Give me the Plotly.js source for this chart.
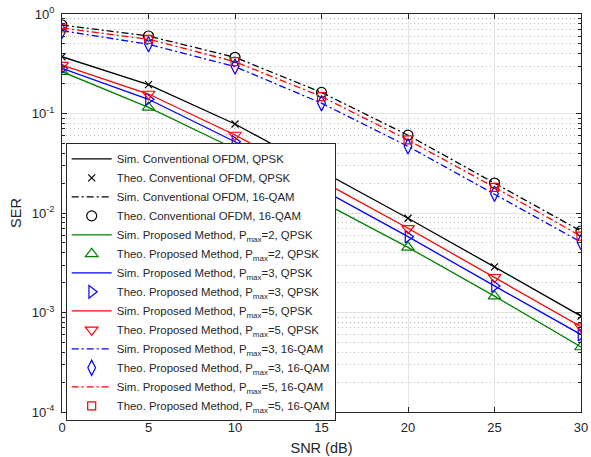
<!DOCTYPE html>
<html>
<head>
<meta charset="utf-8">
<script src="https://cdn.plot.ly/plotly-3.0.1.min.js"></script>
<style>html,body{margin:0;padding:0;background:#fff;}#chart{width:591px;height:457px;}</style>
</head>
<body>
<div id="chart"></div>
<script>
// ---- data ----
var snr = [0, 5, 10, 15, 20, 25, 30];

var convQPSK      = [0.372, 0.195, 0.0785, 0.0265, 0.00885, 0.00287, 0.00092];
var convQAM16     = [0.775, 0.601, 0.367, 0.163, 0.0605, 0.0200, 0.00659];
var propQPSK_P2   = [0.263, 0.115, 0.0440, 0.0130, 0.00452, 0.00146, 0.00045];
var propQPSK_P3   = [0.284, 0.139, 0.0520, 0.0175, 0.00578, 0.00185, 0.00060];
var propQPSK_P5   = [0.307, 0.157, 0.0608, 0.0210, 0.00702, 0.00226, 0.00072];
var propQAM16_P3  = [0.680, 0.496, 0.296, 0.127, 0.0468, 0.0156, 0.00510];
var propQAM16_P5  = [0.723, 0.557, 0.332, 0.148, 0.0542, 0.0181, 0.00585];

var yTickVals  = [1e-4, 1e-3, 1e-2, 1e-1, 1];
var yTickText  = ['10<sup>-4</sup>', '10<sup>-3</sup>', '10<sup>-2</sup>', '10<sup>-1</sup>', '10<sup>0</sup>'];
var xTickVals  = [0, 5, 10, 15, 20, 25, 30];

var names = [
  'Sim. Conventional OFDM, QPSK',
  'Theo. Conventional OFDM, QPSK',
  'Sim. Conventional OFDM, 16-QAM',
  'Theo. Conventional OFDM, 16-QAM',
  'Sim. Proposed Method, P<sub>max</sub>=2, QPSK',
  'Theo. Proposed Method, P<sub>max</sub>=2, QPSK',
  'Sim. Proposed Method, P<sub>max</sub>=3, QPSK',
  'Theo. Proposed Method, P<sub>max</sub>=3, QPSK',
  'Sim. Proposed Method, P<sub>max</sub>=5, QPSK',
  'Theo. Proposed Method, P<sub>max</sub>=5, QPSK',
  'Sim. Proposed Method, P<sub>max</sub>=3, 16-QAM',
  'Theo. Proposed Method, P<sub>max</sub>=3, 16-QAM',
  'Sim. Proposed Method, P<sub>max</sub>=5, 16-QAM',
  'Theo. Proposed Method, P<sub>max</sub>=5, 16-QAM'
];

// ---- styling ----
var BLACK = '#000000', GREEN = '#008000', BLUE = '#0000ff', RED = '#ff0000';
var DASHDOT = '7px,3px,2px,3px';

function simLine(name, y, color, dash) {
  return {x: snr, y: y, name: name, mode: 'lines', type: 'scatter',
          line: {color: color, width: 1.3, dash: dash || 'solid'}};
}
function theoMarks(name, y, color, symbol, size) {
  return {x: snr, y: y, name: name, mode: 'markers', type: 'scatter',
          marker: {symbol: symbol, size: size, color: color, line: {color: color, width: 1.2}}};
}

var data = [
  simLine(names[0], convQPSK, BLACK),
  theoMarks(names[1], convQPSK, BLACK, 'x-thin-open', 7),
  simLine(names[2], convQAM16, BLACK, DASHDOT),
  theoMarks(names[3], convQAM16, BLACK, 'circle-open', 10),
  simLine(names[4], propQPSK_P2, GREEN),
  theoMarks(names[5], propQPSK_P2, GREEN, 'triangle-up-open', 11),
  simLine(names[6], propQPSK_P3, BLUE),
  theoMarks(names[7], propQPSK_P3, BLUE, 'triangle-right-open', 11),
  simLine(names[8], propQPSK_P5, RED),
  theoMarks(names[9], propQPSK_P5, RED, 'triangle-down-open', 11),
  simLine(names[10], propQAM16_P3, BLUE, DASHDOT),
  theoMarks(names[11], propQAM16_P3, BLUE, 'diamond-tall-open', 11),
  simLine(names[12], propQAM16_P5, RED, DASHDOT),
  theoMarks(names[13], propQAM16_P5, RED, 'square-open', 8)
];

var minorVals = [];
for (var e = -4; e < 0; e++) {
  for (var d = 2; d <= 9; d++) minorVals.push(d * Math.pow(10, e));
}

var AX = '#262626';
var FONT = 'Liberation Sans, Arial, sans-serif';

var layout = {
  width: 591, height: 457,
  margin: {l: 62, r: 10, t: 14, b: 45},
  paper_bgcolor: '#ffffff', plot_bgcolor: '#ffffff',
  font: {family: FONT, color: AX, size: 13},
  showlegend: true,
  legend: {
    x: 0.0071, y: 0.675, xanchor: 'left', yanchor: 'top',
    bgcolor: '#ffffff', bordercolor: '#262626', borderwidth: 1,
    font: {family: FONT, size: 11.4, color: '#262626'},
    itemwidth: 40, tracegroupgap: 0
  },
  xaxis: {
    range: [0, 30], tickmode: 'array', tickvals: xTickVals,
    ticks: 'inside', ticklen: 5, tickcolor: AX, mirror: 'ticks',
    showline: true, linecolor: AX, linewidth: 1,
    showgrid: true, gridcolor: '#e3e3e3', gridwidth: 1, zeroline: false,
    tickfont: {size: 13, color: AX}, ticklabelstandoff: 3,
    title: {text: 'SNR (dB)', font: {size: 14.5, color: AX}, standoff: 9}
  },
  yaxis: {
    type: 'log', range: [-4, 0], tickmode: 'array', tickvals: yTickVals, ticktext: yTickText,
    ticks: 'inside', ticklen: 5, tickcolor: AX, mirror: 'ticks',
    showline: true, linecolor: AX, linewidth: 1,
    showgrid: true, gridcolor: '#e3e3e3', gridwidth: 1, zeroline: false,
    tickfont: {size: 13, color: AX}, ticklabelstandoff: 4,
    minor: {tickmode: 'array', tickvals: minorVals, ticks: 'inside', ticklen: 3, tickcolor: AX,
            showgrid: true, gridcolor: '#bcbcbc', griddash: '1px,3px', gridwidth: 1},
    title: {text: 'SER', font: {size: 14.5, color: AX}, standoff: 6}
  }
};

Plotly.newPlot('chart', data, layout, {displayModeBar: false, staticPlot: true});
</script>
</body>
</html>
